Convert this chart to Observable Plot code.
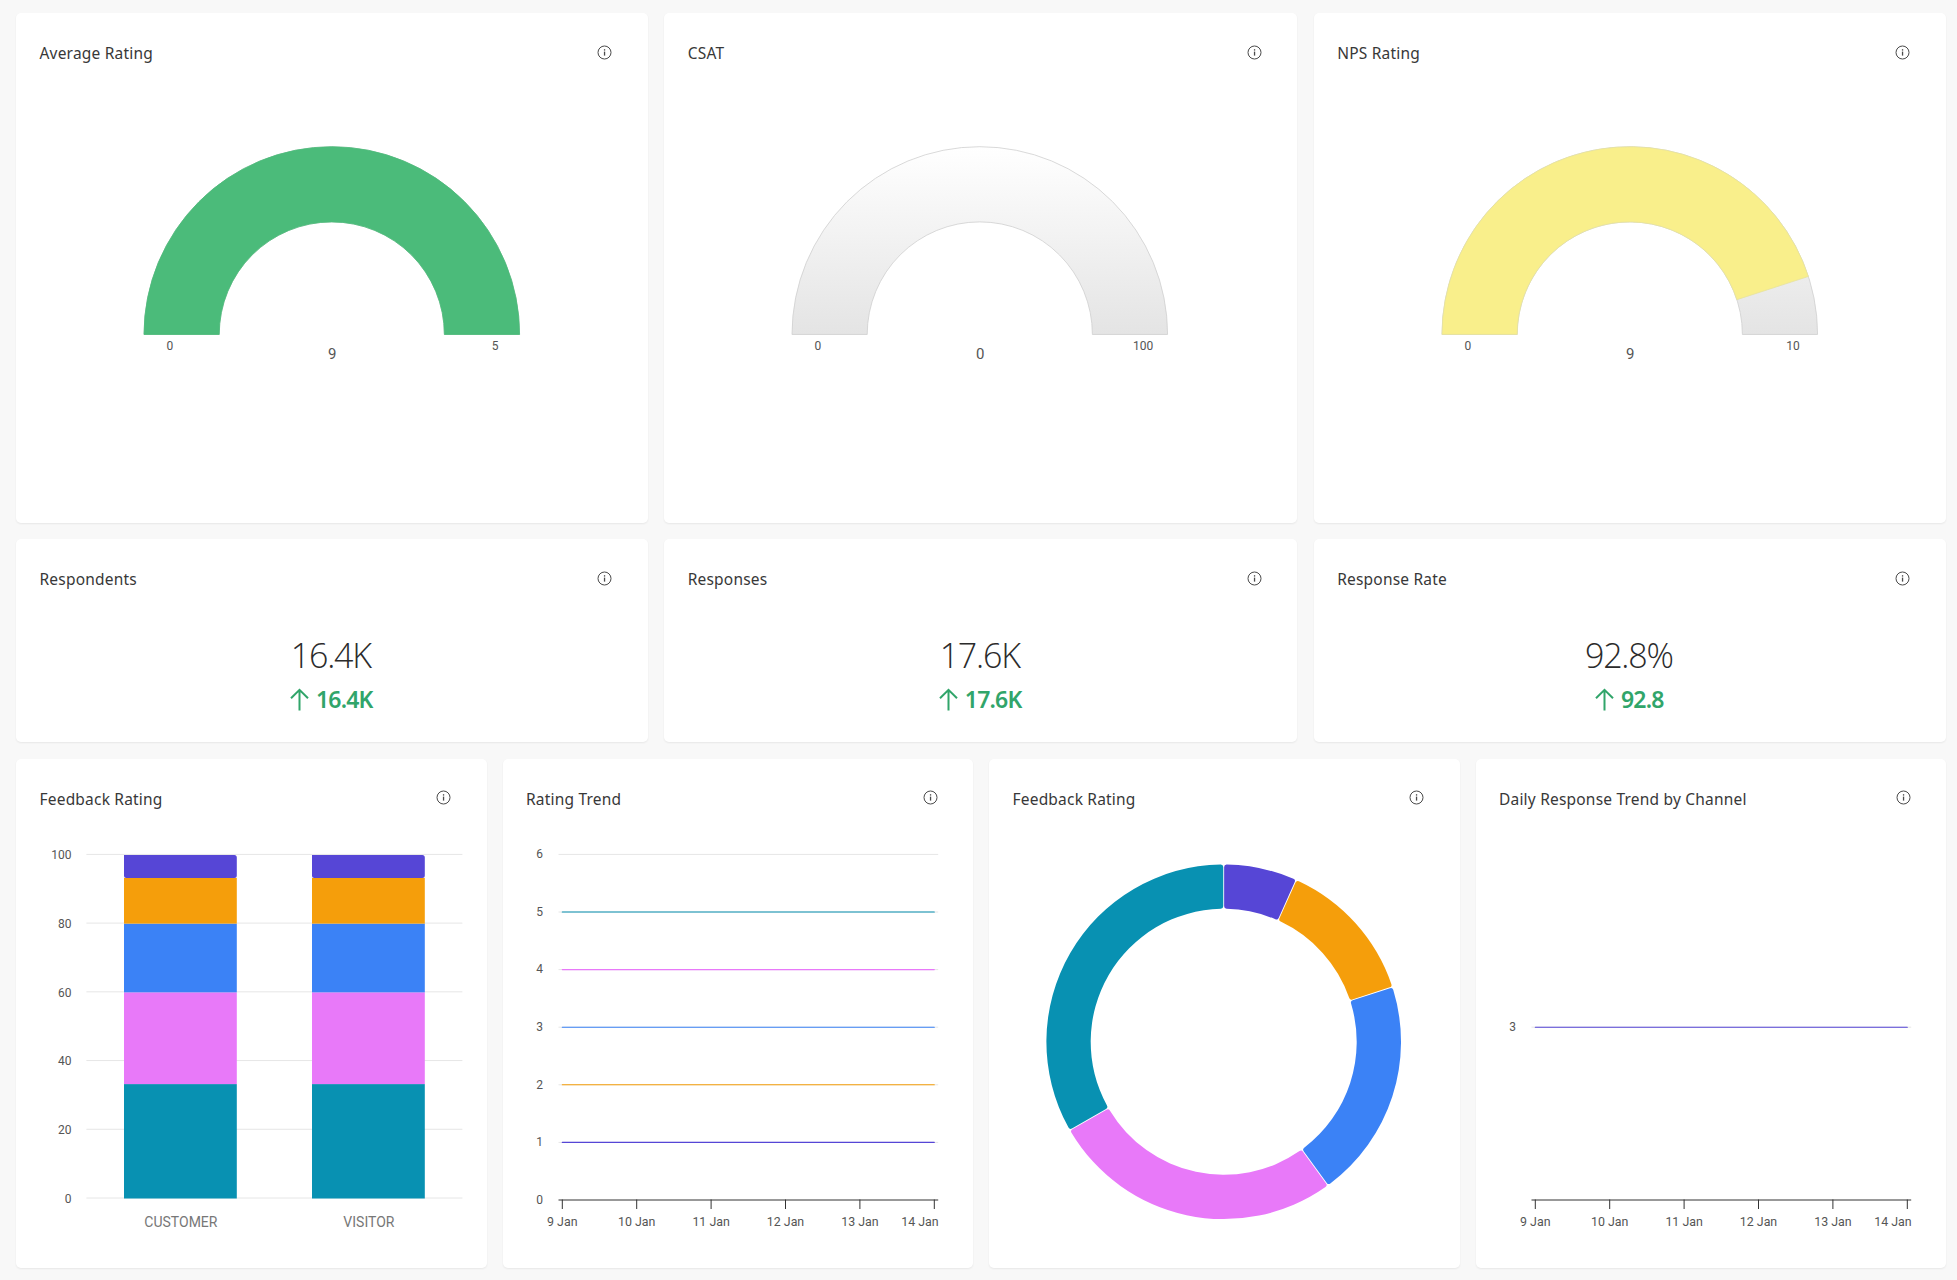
<!DOCTYPE html>
<html>
<head>
<meta charset="utf-8">
<script src="https://cdn.jsdelivr.net/npm/d3@7"></script>
<script src="https://cdn.jsdelivr.net/npm/@observablehq/plot@0.6"></script>
<style>
html,body{margin:0;padding:0;background:#f8f8f8;}
body{width:1957px;height:1280px;overflow:hidden;position:relative;font-family:"Noto Sans","Open Sans",sans-serif;color:#333;}
.row{position:absolute;left:16px;width:1930px;display:grid;}
.r1{top:13px;height:510px;grid-template-columns:631.7px 633px 632.3px;column-gap:16.5px;}
.r2{top:539px;height:203px;grid-template-columns:631.7px 633px 632.3px;column-gap:16.5px;}
.r3{top:758.5px;height:509.5px;grid-template-columns:repeat(4,470.5px);column-gap:16px;}
.card{position:relative;background:#fff;border-radius:5px;box-shadow:0 1px 2px rgba(0,0,0,.07);}
.title{position:absolute;left:23.5px;top:30px;font-size:15.5px;line-height:21px;letter-spacing:.2px;color:#383838;white-space:nowrap;z-index:2;}
.info{position:absolute;right:35.5px;top:29.5px;width:15px;height:15px;z-index:2;}
.card svg.plot{position:absolute;left:0;top:0;}
.kpi{position:absolute;left:-2px;right:0;top:93.5px;text-align:center;font-family:"Open Sans","Noto Sans",sans-serif;font-weight:300;font-size:34px;line-height:44px;letter-spacing:-1.2px;color:#2b2b2b;}
.delta{position:absolute;left:-2px;right:0;top:145px;display:flex;justify-content:center;align-items:center;gap:6px;font-family:"Noto Sans",sans-serif;font-weight:600;font-size:23px;line-height:30px;letter-spacing:-.8px;color:#31a56a;}
.delta svg{display:block;}
</style>
</head>
<body>
<div class="row r1" id="r1"></div>
<div class="row r2" id="r2"></div>
<div class="row r3" id="r3"></div>
<script>
// ---------- data ----------
const gaugeTitles = ["Average Rating", "CSAT", "NPS Rating"];
const gaugeValues = [9, 0, 9];
const gaugeMaxima = [5, 100, 10];
const gaugeColors = ["#4bbb7a", "#f9ef8b", "#f9ef8b"];

const kpiTitles = ["Respondents", "Responses", "Response Rate"];
const kpiValues = ["16.4K", "17.6K", "92.8%"];
const kpiDeltas = ["16.4K", "17.6K", "92.8"];

const audiences = ["CUSTOMER", "VISITOR"];
const ratingNames = ["Rating 5", "Rating 4", "Rating 3", "Rating 2", "Rating 1"];
const ratingColors = ["#0891b2", "#e879f9", "#3b82f6", "#f59e0b", "#5646d6"];
const customerShare = [33.3, 26.7, 20, 13.3, 6.7];
const visitorShare = [33.3, 26.7, 20, 13.3, 6.7];
const donutNames = ["Rating 1", "Rating 2", "Rating 3", "Rating 4", "Rating 5"];
const donutShare = [6.7, 13.3, 20, 26.7, 33.3];
const donutColors = ["#5646d6", "#f59e0b", "#3b82f6", "#e879f9", "#0891b2"];

const days = ["2024-01-09", "2024-01-10", "2024-01-11", "2024-01-12", "2024-01-13", "2024-01-14"];
const trend5 = [5, 5, 5, 5, 5, 5];
const trend4 = [4, 4, 4, 4, 4, 4];
const trend3 = [3, 3, 3, 3, 3, 3];
const trend2 = [2, 2, 2, 2, 2, 2];
const trend1 = [1, 1, 1, 1, 1, 1];
const channelTrend = [3, 3, 3, 3, 3, 3];
const ratingTicks = [0, 1, 2, 3, 4, 5, 6];
const shareTicks = [0, 20, 40, 60, 80, 100];
const channelTicks = [3];

// ---------- helpers ----------
const AXIS = "#555";
const GRID = "#e6e6e6";
const dayDates = days.map(d => new Date(d + "T00:00:00Z"));
const dayLabel = d3.utcFormat("%-d %b");
const fontStyle = {fontFamily: "Roboto, sans-serif", fontSize: "12px", background: "transparent", overflow: "visible"};

// A bar mark whose x scale has a range in radians, drawn as ring sectors.
function ringSectors(rows, {cx, cy, inner, outer, corner = 0, pad = 0, gradientId = null}) {
  return Plot.barX(rows, {
    x1: "from", x2: "to",
    render(index, scales, values) {
      const g = d3.create("svg:g");
      if (gradientId) {
        const lg = g.append("defs").append("linearGradient").attr("id", gradientId)
          .attr("x1", 0).attr("y1", 0).attr("x2", 0).attr("y2", 1);
        lg.append("stop").attr("offset", "0%").attr("stop-color", "#ffffff");
        lg.append("stop").attr("offset", "100%").attr("stop-color", "#e4e4e4");
      }
      const arc = d3.arc().innerRadius(inner).outerRadius(outer).cornerRadius(corner).padAngle(pad);
      g.selectAll("path").data(Array.from(index)).join("path")
        .attr("transform", `translate(${cx},${cy})`)
        .attr("d", i => arc({startAngle: values.x1[i], endAngle: values.x2[i]}))
        .attr("fill", i => rows[i].color)
        .attr("stroke", i => rows[i].line || "none")
        .attr("stroke-width", 0.8);
      return g.node();
    }
  });
}

function makeCard(parent, title) {
  const card = d3.select(parent).append("div").attr("class", "card");
  card.append("div").attr("class", "title").text(title);
  card.append("div").attr("class", "info").html(
    `<svg width="15" height="15" viewBox="0 0 15 15" fill="none"><circle cx="7.5" cy="7.5" r="6.5" stroke="#4a4a4a" stroke-width="1"/><rect x="6.9" y="6.6" width="1.3" height="4" fill="#4a4a4a"/><rect x="6.9" y="4.2" width="1.3" height="1.4" fill="#4a4a4a"/></svg>`);
  return card;
}

// ---------- gauges ----------
gaugeTitles.forEach((title, k) => {
  const card = makeCard("#r1", title);
  const max = gaugeMaxima[k], value = Math.min(gaugeValues[k], max);
  const w = 631.7, cx = 315.8, cy = 321.5;
  const id = "track" + k;
  const rows = [{from: 0, to: max, color: `url(#${id})`, line: "#cfcfcf"}];
  if (value > 0) rows.push({from: 0, to: value, color: gaugeColors[k], line: k === 0 ? "#4bbb7a" : "#e6e2a0"});
  const labelOpts = {frameAnchor: "top-left", textAnchor: "middle", lineAnchor: "top", dy: cy + 6.5, fill: AXIS, fontSize: 12};
  card.append(() => Plot.plot({
    width: w, height: 510, margin: 0, style: fontStyle,
    x: {domain: [0, max], range: [-Math.PI / 2, Math.PI / 2], axis: null},
    marks: [
      ringSectors(rows, {cx, cy, inner: 112.6, outer: 187.8, gradientId: id}),
      Plot.text([0], {...labelOpts, dx: cx - 162.5, text: d => d}),
      Plot.text([max], {...labelOpts, dx: cx + 162.8, text: d => d}),
      Plot.text([gaugeValues[k]], {frameAnchor: "top-left", textAnchor: "middle", lineAnchor: "top", dx: cx, dy: cy + 13.5, fill: AXIS, fontSize: 15, text: d => d})
    ]
  })).classed("plot", true);
});

// ---------- KPI tiles ----------
kpiTitles.forEach((title, k) => {
  const card = makeCard("#r2", title);
  card.append("div").attr("class", "kpi").text(kpiValues[k]);
  card.append("div").attr("class", "delta").html(
    `<svg width="21" height="23" viewBox="0 0 21 23" fill="none" stroke="#31a56a" stroke-width="2"><path d="M10.5 22.5V1.8M2 10.3l8.5-8.5 8.5 8.5"/></svg><span></span>`)
    .select("span").text(kpiDeltas[k]);
});

// ---------- stacked bars ----------
{
  const card = makeCard("#r3", "Feedback Rating");
  const rows = [];
  audiences.forEach((a, j) => {
    const shares = j === 0 ? customerShare : visitorShare;
    let base = 0;
    ratingNames.forEach((n, i) => {
      rows.push({audience: a, rating: n, base, top: base + shares[i]});
      base += shares[i];
    });
  });
  const topName = ratingNames[ratingNames.length - 1];
  const barOpts = {x: "audience", y1: "base", y2: "top", fill: "rating", dy: 1};
  card.append(() => Plot.plot({
    width: 470.5, height: 509.5, marginLeft: 70.4, marginRight: 24.1, marginTop: 94.9, marginBottom: 71,
    style: fontStyle,
    x: {domain: audiences, paddingInner: 0.4, paddingOuter: 0.2, round: false, label: null},
    y: {domain: [0, 100], label: null},
    color: {domain: ratingNames, range: ratingColors},
    marks: [
      Plot.ruleY(shareTicks, {stroke: GRID, strokeWidth: 1}),
      Plot.barY(rows.filter(d => d.rating !== topName), barOpts),
      Plot.barY(rows.filter(d => d.rating === topName), {...barOpts, ry2: 2.5, rx2: 2.5}),
      Plot.axisY(shareTicks, {tickSize: 0, tickPadding: 15.3, dy: 1, fill: AXIS, label: null}),
      Plot.axisX({tickSize: 0, tickPadding: 19.5, fontSize: 14, fill: "#777", label: null})
    ]
  })).classed("plot", true);
}

// ---------- trend charts ----------
function trendChart(title, series, yTicks, gridTicks) {
  const card = makeCard("#r3", title);
  const rows = series.flatMap(s => s.values.map((v, i) => ({series: s.name, date: dayDates[i], value: v})));
  card.append(() => Plot.plot({
    width: 470.5, height: 509.5, marginLeft: 55.5, marginRight: 35.3, marginTop: 94.9, marginBottom: 69,
    style: fontStyle,
    x: {type: "utc", domain: [dayDates[0], dayDates[dayDates.length - 1]], insetLeft: 3.3, insetRight: 4.4, label: null},
    y: {domain: [0, 6], label: null},
    color: {domain: ratingNames, range: ratingColors},
    marks: [
      Plot.ruleY(gridTicks, {stroke: GRID, strokeWidth: 1}),
      Plot.ruleY([0], {stroke: "#333", strokeWidth: 1}),
      Plot.line(rows, {x: "date", y: "value", z: "series", stroke: "series", strokeWidth: 1.1}),
      Plot.axisY(yTicks, {tickSize: 0, tickPadding: 16, fill: AXIS, label: null, tickFormat: d => String(d)}),
      Plot.axisX(dayDates, {tickSize: 9.5, stroke: "#333", tickFormat: () => "", label: null}),
      Plot.text(dayDates.slice(0, -1), {x: d => d, frameAnchor: "bottom", lineAnchor: "top", dy: 17.5, fill: AXIS, fontSize: 12.4, text: dayLabel}),
      Plot.text(dayDates.slice(-1), {x: d => d, frameAnchor: "bottom", lineAnchor: "top", textAnchor: "end", dx: 4.4, dy: 17.5, fill: AXIS, fontSize: 12.4, text: dayLabel})
    ]
  })).classed("plot", true);
}

trendChart("Rating Trend", [
  {name: ratingNames[0], values: trend5},
  {name: ratingNames[1], values: trend4},
  {name: ratingNames[2], values: trend3},
  {name: ratingNames[3], values: trend2},
  {name: ratingNames[4], values: trend1}
], ratingTicks, ratingTicks.slice(1));

// ---------- donut ----------
{
  const card = makeCard("#r3", "Feedback Rating");
  let start = 0;
  const rows = donutNames.map((name, i) => {
    const row = {name, from: start, to: start + donutShare[i], color: donutColors[i]};
    start += donutShare[i];
    return row;
  });
  card.append(() => Plot.plot({
    width: 470.5, height: 509.5, margin: 0, style: fontStyle,
    x: {domain: [0, 100], range: [0, 2 * Math.PI], axis: null},
    marks: [ringSectors(rows, {cx: 234.7, cy: 282.8, inner: 133, outer: 177.3, corner: 2.5, pad: 0.004})]
  })).classed("plot", true);
}

trendChart("Daily Response Trend by Channel", [
  {name: ratingNames[4], values: channelTrend}
], channelTicks, channelTicks);
</script>
</body>
</html>
